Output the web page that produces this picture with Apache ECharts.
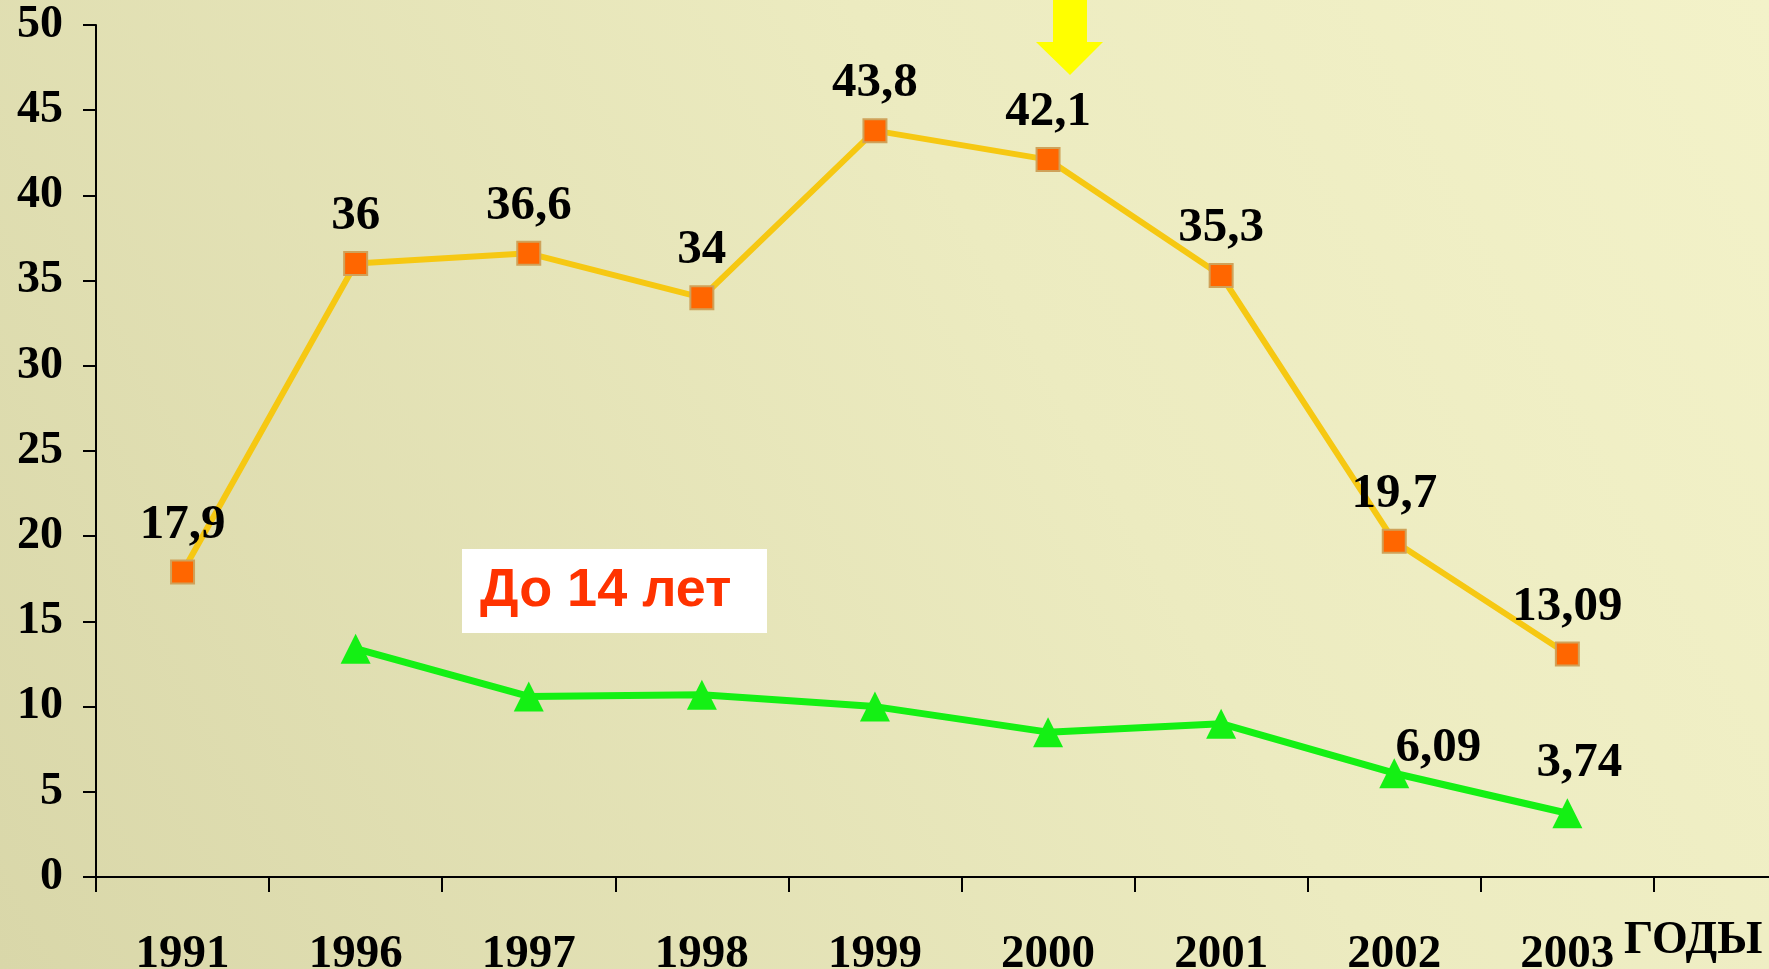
<!DOCTYPE html>
<html>
<head>
<meta charset="utf-8">
<script src="https://cdn.jsdelivr.net/npm/echarts@6/dist/echarts.min.js"></script>
<style>
html, body { margin: 0; padding: 0; }
#main { width: 1769px; height: 969px; }
</style>
</head>
<body>
<div id="main"></div>
<script>
// categories (last one empty - axis runs past the picture edge)
var years	= ['1991', '1996', '1997', '1998', '1999', '2000', '2001', '2002', '2003', ''];
var total	= [17.9, 36, 36.6, 34, 43.8, 42.1, 35.3, 19.7, 13.09, null];
var under14	= [null, 13.4, 10.6, 10.7, 10.0, 8.5, 9.0, 6.09, 3.74, null];
var green_labels = ['', '', '', '', '', '', '', '6,09', '3,74', ''];
var y_ticks	= [0, 5, 10, 15, 20, 25, 30, 35, 40, 45, 50];

var serif = '"Liberation Serif", "DejaVu Serif", serif';

function comma(v) {
    return String(v).replace('.', ',');
}

var green_data = under14.map(function(v, i) {
    var item = { value: v };
    if (green_labels[i] != '') {
	item.label = { show: true, formatter: green_labels[i] };
	if (i == 7) item.label.offset = [44, 25];
	else item.label.offset = [12, 0];
    }
    return item;
});

var chart = echarts.init(document.getElementById('main'));
var option = {
    backgroundColor: {
	type: 'linear', x: 0, y: 1, x2: 1, y2: 0,
	colorStops: [
	    { offset: 0, color: '#d9d7a9' },
	    { offset: 0.6, color: '#ecebc0' },
	    { offset: 1, color: '#f3f2c9' }
	]
    },
    animation: false,
    grid: {
	left: 96,
	top: 25,
	bottom: 92,
	width: 1731,
	outerBoundsMode: 'none',
	containLabel: false
    },
    xAxis: {
	type: 'category',
	data: years,
	boundaryGap: true,
	axisLine: { lineStyle: { color: '#000', width: 2 } },
	axisTick: { show: true, length: 15, inside: false, lineStyle: { color: '#000', width: 2 } },
	axisLabel: {
	    color: '#000',
	    fontFamily: serif,
	    fontWeight: 'bold',
	    fontSize: 47,
	    margin: 54
	},
	splitLine: { show: false }
    },
    yAxis: {
	type: 'value',
	min: y_ticks[0],
	max: y_ticks[y_ticks.length - 1],
	interval: 5,
	axisLine: { show: true, lineStyle: { color: '#000', width: 2 } },
	axisTick: { show: true, length: 13, lineStyle: { color: '#000', width: 2 } },
	axisLabel: {
	    color: '#000',
	    fontFamily: serif,
	    fontWeight: 'bold',
	    fontSize: 46,
	    margin: 33
	},
	splitLine: { show: false }
    },
    graphic: [
	{
	    type: 'rect',
	    shape: { x: 462, y: 549, width: 305, height: 84 },
	    style: { fill: '#ffffff' }
	},
	{
	    type: 'text',
	    left: 480,
	    top: 564,
	    style: {
		text: 'До 14 лет',
		fill: '#ff3300',
		font: 'bold 54px "Liberation Sans", Arial, sans-serif'
	    }
	},
	{
	    type: 'polygon',
	    shape: {
		points: [[1053, 0], [1087, 0], [1087, 42], [1103, 42], [1070, 75], [1036, 42], [1053, 42]]
	    },
	    style: { fill: '#ffff00' }
	},
	{
	    type: 'text',
	    left: 1624,
	    top: 918,
	    style: {
		text: 'ГОДЫ',
		fill: '#000',
		font: 'bold 46px "Liberation Serif", serif'
	    }
	}
    ],
    series: [
	{
	    type: 'line',
	    data: total,
	    symbol: 'rect',
	    symbolSize: 23,
	    lineStyle: { color: '#f6c812', width: 6 },
	    itemStyle: { color: '#ff6600', borderColor: '#cfa25a', borderWidth: 2 },
	    label: {
		show: true,
		position: 'top',
		distance: 10,
		color: '#000',
		fontFamily: serif,
		fontWeight: 'bold',
		fontSize: 49,
		formatter: function(p) { return comma(p.value); }
	    },
	    z: 3
	},
	{
	    type: 'line',
	    data: green_data,
	    symbol: 'triangle',
	    symbolSize: 30,
	    lineStyle: { color: '#14f014', width: 7 },
	    itemStyle: { color: '#14f014' },
	    label: {
		show: false,
		position: 'top',
		distance: 10,
		color: '#000',
		fontFamily: serif,
		fontWeight: 'bold',
		fontSize: 49
	    },
	    z: 2
	}
    ]
};
chart.setOption(option);
</script>
</body>
</html>
